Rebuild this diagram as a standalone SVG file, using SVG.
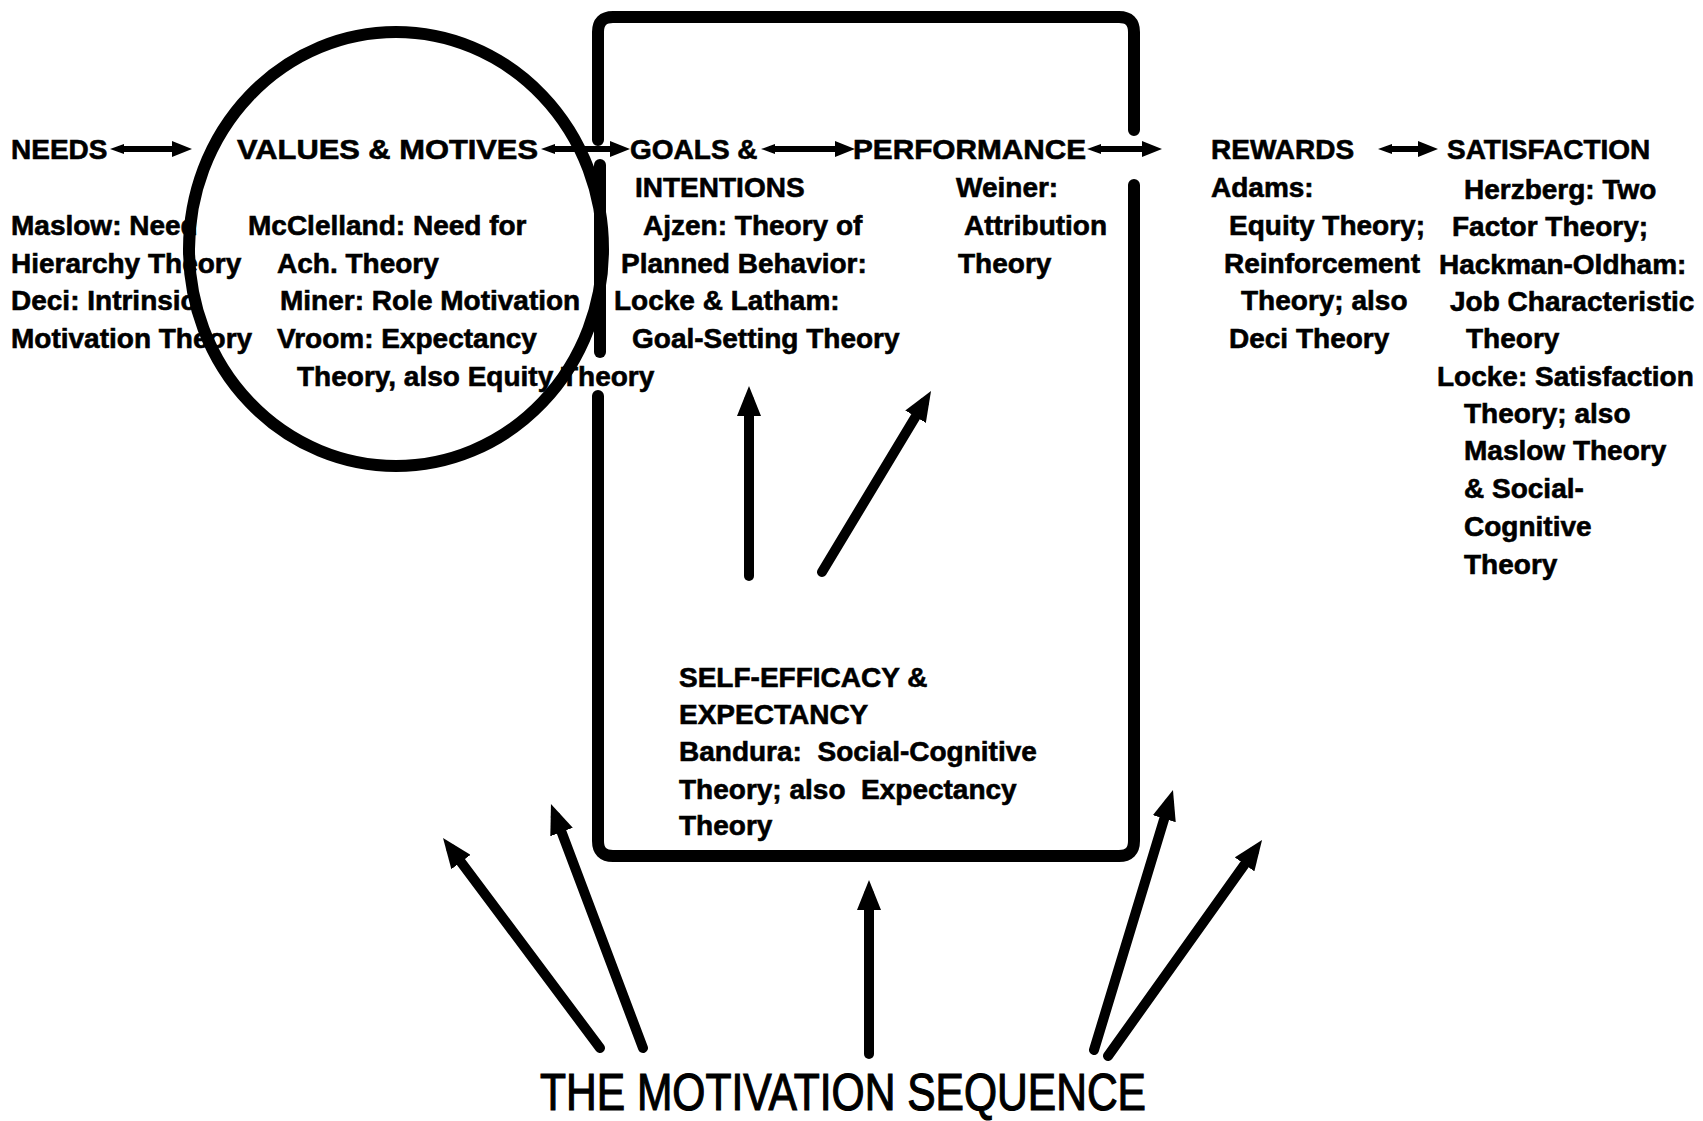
<svg xmlns="http://www.w3.org/2000/svg" width="1703" height="1121" viewBox="0 0 1703 1121">
<style>
.t{font-family:"Liberation Sans",Arial,sans-serif;font-weight:bold;font-size:28px;fill:#000;stroke:#000;stroke-width:0.6}
.title{font-family:"Liberation Sans",Arial,sans-serif;font-weight:normal;font-size:52px;fill:#000;stroke:#000;stroke-width:1.2}
.frame{fill:none;stroke:#000;stroke-width:12;stroke-linecap:round;stroke-linejoin:round}
.big{fill:none;stroke:#000;stroke-width:10;stroke-linecap:round;marker-end:url(#headBig)}
.small{fill:none;stroke:#000;stroke-width:6;marker-end:url(#headSmall);marker-start:url(#tailSmall)}
</style>
<defs>
<marker id="headBig" markerUnits="userSpaceOnUse" viewBox="0 0 30 24" markerWidth="30" markerHeight="24" refX="16" refY="12" orient="auto">
<path d="M0,0 L30,12 L0,24 z" fill="#000"/>
</marker>
<marker id="headSmall" markerUnits="userSpaceOnUse" viewBox="0 0 20 16" markerWidth="20" markerHeight="16" refX="9" refY="8" orient="auto">
<path d="M0,0 L20,8 L0,16 z" fill="#000"/>
</marker>
<marker id="tailSmall" markerUnits="userSpaceOnUse" viewBox="0 0 14 10" markerWidth="14" markerHeight="10" refX="6" refY="5" orient="auto-start-reverse">
<path d="M0,0 L14,5 L0,10 z" fill="#000"/>
</marker>
</defs>
<rect x="0" y="0" width="1703" height="1121" fill="#fff"/>

<g id="frames">
<ellipse id="values-circle" class="frame" cx="396" cy="249" rx="207" ry="217"/>
<path id="loop-top" class="frame" d="M598,140 V32 Q598,17 613,17 H1119 Q1134,17 1134,32 V130"/>
<path id="loop-mid" class="frame" d="M600,165 V352"/>
<path id="loop-bottom" class="frame" d="M598,396 V841 Q598,856 613,856 H1119 Q1134,856 1134,841 V185"/>
</g>

<g id="connectors">
<line class="small" x1="118" y1="149" x2="181" y2="149"/>
<line class="small" x1="549" y1="149" x2="619" y2="149"/>
<line class="small" x1="769" y1="149" x2="844" y2="149"/>
<line class="small" x1="1095" y1="149" x2="1151" y2="149"/>
<line class="small" x1="1386" y1="149" x2="1427" y2="149"/>
<line class="big" x1="749" y1="576" x2="749" y2="400"/>
<line class="big" x1="822" y1="572" x2="923.8" y2="403"/>
<line class="big" x1="600" y1="1048" x2="451.4" y2="849.2"/>
<line class="big" x1="643" y1="1048" x2="555.9" y2="817.1"/>
<line class="big" x1="869" y1="1054" x2="869" y2="894"/>
<line class="big" x1="1094" y1="1050" x2="1168.9" y2="803.4"/>
<line class="big" x1="1108" y1="1056" x2="1253.9" y2="851.4"/>
</g>

<g id="needs">
<text class="t" x="11" y="159">NEEDS</text>
<text class="t" x="11" y="235">Maslow: Need</text>
<text class="t" x="11" y="273">Hierarchy Theory</text>
<text class="t" x="11" y="310">Deci: Intrinsic</text>
<text class="t" x="11" y="348">Motivation Theory</text>
</g>

<g id="values-motives">
<text class="t" x="237" y="159" textLength="301" lengthAdjust="spacingAndGlyphs">VALUES &amp; MOTIVES</text>
<text class="t" x="248" y="235">McClelland: Need for</text>
<text class="t" x="277" y="273">Ach. Theory</text>
<text class="t" x="280" y="310">Miner: Role Motivation</text>
<text class="t" x="277" y="348">Vroom: Expectancy</text>
<text class="t" x="297" y="386">Theory, also Equity Theory</text>
</g>

<g id="goals-intentions">
<text class="t" x="630" y="159">GOALS &amp;</text>
<text class="t" x="635" y="197">INTENTIONS</text>
<text class="t" x="643" y="235">Ajzen: Theory of</text>
<text class="t" x="621" y="273">Planned Behavior:</text>
<text class="t" x="614" y="310">Locke &amp; Latham:</text>
<text class="t" x="632" y="348">Goal-Setting Theory</text>
</g>

<g id="performance">
<text class="t" x="853" y="159" textLength="233" lengthAdjust="spacingAndGlyphs">PERFORMANCE</text>
<text class="t" x="956" y="197">Weiner:</text>
<text class="t" x="964" y="235">Attribution</text>
<text class="t" x="958" y="273">Theory</text>
</g>

<g id="rewards">
<text class="t" x="1211" y="159">REWARDS</text>
<text class="t" x="1211" y="197">Adams:</text>
<text class="t" x="1229" y="235">Equity Theory;</text>
<text class="t" x="1224" y="273">Reinforcement</text>
<text class="t" x="1241" y="310">Theory; also</text>
<text class="t" x="1229" y="348">Deci Theory</text>
</g>

<g id="satisfaction">
<text class="t" x="1447" y="159">SATISFACTION</text>
<text class="t" x="1464" y="199">Herzberg: Two</text>
<text class="t" x="1452" y="236">Factor Theory;</text>
<text class="t" x="1439" y="274">Hackman-Oldham:</text>
<text class="t" x="1450" y="311">Job Characteristic</text>
<text class="t" x="1466" y="348">Theory</text>
<text class="t" x="1437" y="386">Locke: Satisfaction</text>
<text class="t" x="1464" y="423">Theory; also</text>
<text class="t" x="1464" y="460">Maslow Theory</text>
<text class="t" x="1464" y="498">&amp; Social-</text>
<text class="t" x="1464" y="536">Cognitive</text>
<text class="t" x="1464" y="574">Theory</text>
</g>

<g id="self-efficacy">
<text class="t" x="679" y="687">SELF-EFFICACY &amp;</text>
<text class="t" x="679" y="724">EXPECTANCY</text>
<text class="t" x="679" y="761" xml:space="preserve">Bandura:  Social-Cognitive</text>
<text class="t" x="679" y="799" xml:space="preserve">Theory; also  Expectancy</text>
<text class="t" x="679" y="835">Theory</text>
</g>

<g id="title">
<text class="title" x="540" y="1110" textLength="606" lengthAdjust="spacingAndGlyphs">THE MOTIVATION SEQUENCE</text>
</g>
</svg>
